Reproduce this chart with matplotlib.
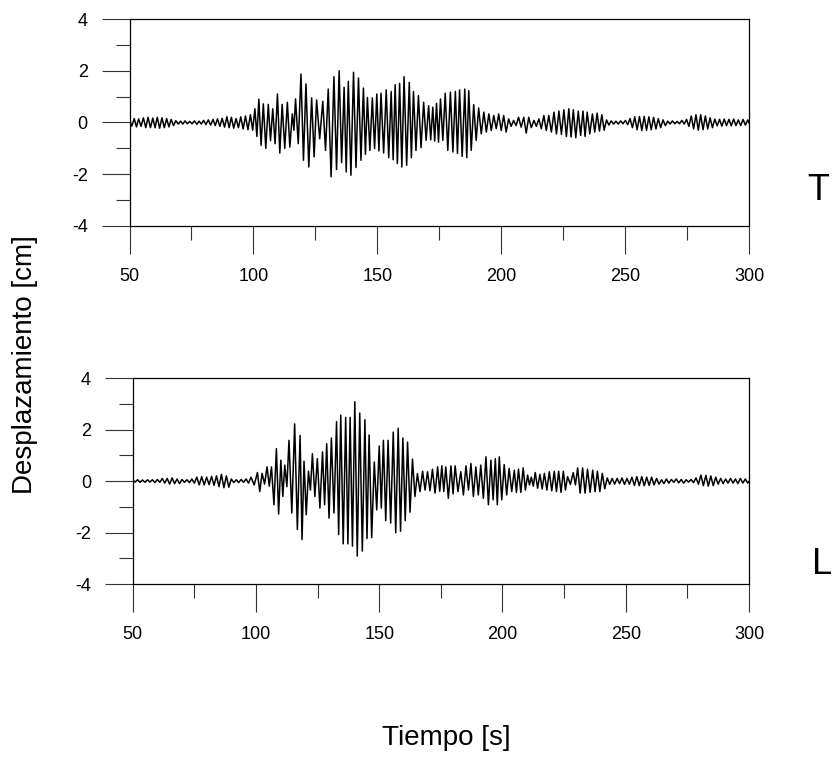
import matplotlib
matplotlib.use('Agg')
import matplotlib.pyplot as plt
from matplotlib.ticker import MultipleLocator

plt.rcParams['font.family'] = ['Liberation Sans', 'DejaVu Sans']
plt.rcParams['axes.unicode_minus'] = False

# peak times [s] and peak values [cm], one row per cycle
top_tp = [50.0, 51.9, 53.7, 55.6, 57.5, 59.4, 61.2, 63.1, 65.0, 66.8,
          68.7, 70.6, 72.4, 74.3, 76.2, 78.1, 79.9, 81.8, 83.7, 85.5,
          87.4, 89.3, 91.1, 93.0, 94.9, 96.8, 98.8, 100.6, 102.2, 104.0,
          106.0, 107.8, 109.7, 111.6, 113.7, 115.7, 117.0, 119.2, 121.2, 123.5,
          125.5, 128.0, 130.2, 132.5, 134.6, 136.6, 138.3, 140.4, 142.4, 144.4,
          146.0, 148.0, 149.8, 151.5, 153.6, 155.6, 157.2, 159.0, 160.8, 162.9,
          164.6, 166.6, 168.7, 170.7, 172.4, 173.9, 175.5, 177.4, 179.5, 181.5,
          183.2, 185.3, 186.9, 188.9, 190.9, 193.0, 195.0, 197.0, 199.0, 201.0,
          203.0, 205.0, 207.0, 209.1, 211.1, 213.2, 215.2, 217.2, 219.2, 221.3,
          223.3, 225.3, 227.3, 229.1, 231.1, 233.0, 234.7, 236.8, 238.7, 240.6,
          242.5, 244.4, 246.3, 248.2, 250.1, 252.0, 253.9, 255.8, 257.7, 259.6,
          261.5, 263.4, 265.3, 267.2, 269.1, 271.0, 272.9, 274.8, 276.7, 278.6,
          280.5, 282.4, 284.3, 286.2, 288.1, 290.0, 291.9, 293.8, 295.7, 297.6,
          299.5]
top_pos = [0.12, 0.15, 0.14, 0.18, 0.20, 0.17, 0.20, 0.18, 0.15, 0.12,
           0.07, 0.05, 0.06, 0.04, 0.06, 0.05, 0.08, 0.10, 0.12, 0.14,
           0.16, 0.22, 0.20, 0.15, 0.22, 0.25, 0.30, 0.53, 0.90, 0.72,
           0.70, 0.53, 1.10, 0.70, 0.78, 0.33, 0.91, 1.87, 1.49, 0.95,
           0.87, 0.82, 1.29, 1.77, 2.00, 1.36, 1.59, 1.94, 1.72, 1.33,
           0.97, 0.95, 1.10, 1.13, 1.26, 1.20, 1.46, 1.51, 1.77, 1.55,
           1.20, 1.04, 0.78, 0.65, 0.59, 0.74, 0.91, 1.13, 1.17, 1.20,
           1.26, 1.29, 1.23, 0.69, 0.56, 0.40, 0.33, 0.27, 0.33, 0.27,
           0.14, 0.08, 0.20, 0.20, 0.20, 0.08, 0.14, 0.27, 0.27, 0.40,
           0.44, 0.49, 0.53, 0.49, 0.44, 0.44, 0.40, 0.33, 0.36, 0.30,
           0.10, 0.06, 0.05, 0.06, 0.08, 0.15, 0.22, 0.23, 0.24, 0.22,
           0.20, 0.15, 0.10, 0.05, 0.06, 0.04, 0.08, 0.12, 0.25, 0.30,
           0.30, 0.25, 0.18, 0.13, 0.12, 0.13, 0.12, 0.13, 0.10, 0.12,
           0.10]
top_neg = [-0.14, -0.17, -0.15, -0.20, -0.20, -0.20, -0.22, -0.20, -0.17, -0.12,
           -0.06, -0.06, -0.05, -0.05, -0.07, -0.06, -0.08, -0.10, -0.12, -0.15,
           -0.18, -0.20, -0.22, -0.20, -0.25, -0.28, -0.30, -0.54, -0.88, -1.00,
           -0.70, -0.82, -1.18, -1.00, -0.95, -0.30, -0.82, -1.46, -1.72, -1.33,
           -0.63, -1.08, -2.10, -1.82, -1.55, -1.91, -2.04, -1.74, -1.46, -1.23,
           -1.08, -1.01, -1.10, -1.18, -1.36, -1.44, -1.59, -1.72, -1.65, -1.36,
           -1.08, -0.97, -0.69, -0.67, -0.72, -0.76, -0.69, -1.08, -1.14, -1.20,
           -1.31, -1.36, -1.08, -0.69, -0.44, -0.37, -0.31, -0.24, -0.31, -0.37,
           -0.15, -0.12, -0.18, -0.41, -0.20, -0.15, -0.24, -0.31, -0.37, -0.44,
           -0.46, -0.54, -0.56, -0.59, -0.50, -0.54, -0.44, -0.37, -0.33, -0.30,
           -0.10, -0.06, -0.06, -0.05, -0.08, -0.20, -0.28, -0.31, -0.30, -0.28,
           -0.25, -0.20, -0.12, -0.06, -0.05, -0.05, -0.06, -0.15, -0.25, -0.30,
           -0.28, -0.25, -0.20, -0.13, -0.14, -0.12, -0.13, -0.12, -0.12, -0.10,
           -0.10]

bot_tp = [50.0, 52.0, 54.0, 56.0, 58.0, 60.0, 62.0, 64.0, 66.0, 68.0,
          70.0, 72.0, 74.0, 76.0, 78.0, 80.0, 82.0, 84.0, 86.0, 88.0,
          90.0, 92.0, 94.0, 96.0, 98.0, 100.6, 102.5, 104.5, 106.3, 108.3,
          110.1, 111.7, 113.4, 115.7, 117.9, 119.5, 121.3, 122.9, 124.9, 127.0,
          128.7, 130.6, 132.7, 134.4, 136.4, 138.2, 140.1, 142.1, 144.2, 145.9,
          148.0, 150.0, 151.7, 153.6, 155.7, 157.7, 159.6, 161.5, 163.5, 165.5,
          167.6, 169.6, 171.6, 173.7, 175.4, 177.0, 179.1, 180.8, 183.1, 185.2,
          187.2, 189.2, 191.2, 193.3, 195.3, 197.1, 198.7, 200.7, 202.7, 204.8,
          206.5, 208.4, 210.2, 211.7, 213.3, 215.2, 217.0, 219.0, 221.0, 222.8,
          224.7, 226.4, 228.7, 230.5, 232.5, 234.5, 236.6, 238.5, 240.5, 242.5,
          244.5, 246.5, 248.5, 250.5, 252.5, 254.5, 256.5, 258.5, 260.5, 262.5,
          264.5, 266.5, 268.5, 270.5, 272.5, 274.5, 276.5, 278.5, 280.5, 282.5,
          284.5, 286.5, 288.5, 290.5, 292.5, 294.5, 296.5, 298.5, 300.5]
bot_pos = [0.04, 0.05, 0.04, 0.05, 0.05, 0.06, 0.10, 0.10, 0.12, 0.08,
           0.06, 0.05, 0.08, 0.15, 0.17, 0.15, 0.18, 0.20, 0.26, 0.20,
           0.08, 0.05, 0.06, 0.08, 0.15, 0.33, 0.30, 0.55, 0.55, 1.26,
           0.81, 0.62, 1.58, 2.22, 1.77, 0.77, 0.38, 1.06, 0.87, 1.13,
           1.45, 1.67, 2.31, 2.56, 2.47, 2.47, 3.08, 2.64, 2.38, 1.79,
           0.74, 1.36, 1.58, 1.58, 1.90, 2.05, 1.67, 1.51, 0.85, 0.29,
           0.38, 0.36, 0.46, 0.55, 0.59, 0.55, 0.59, 0.59, 0.36, 0.59,
           0.68, 0.55, 0.62, 0.94, 0.81, 0.87, 0.94, 0.64, 0.49, 0.42,
           0.46, 0.51, 0.23, 0.15, 0.33, 0.26, 0.30, 0.36, 0.38, 0.38,
           0.38, 0.17, 0.33, 0.51, 0.51, 0.46, 0.42, 0.38, 0.30, 0.12,
           0.10, 0.10, 0.12, 0.10, 0.15, 0.17, 0.17, 0.15, 0.15, 0.10,
           0.05, 0.08, 0.06, 0.08, 0.06, 0.05, 0.06, 0.12, 0.23, 0.22,
           0.20, 0.15, 0.10, 0.08, 0.10, 0.08, 0.10, 0.08, 0.05]
bot_neg = [-0.04, -0.05, -0.05, -0.04, -0.06, -0.05, -0.08, -0.12, -0.10, -0.10,
           -0.05, -0.06, -0.08, -0.15, -0.15, -0.14, -0.17, -0.22, -0.26, -0.24,
           -0.06, -0.06, -0.05, -0.08, -0.15, -0.41, -0.12, -0.20, -0.92, -1.28,
           -0.60, -0.22, -1.24, -1.88, -2.27, -1.31, -0.35, -0.60, -1.05, -0.92,
           -1.44, -1.24, -2.08, -2.44, -2.44, -2.53, -2.91, -2.72, -2.23, -2.20,
           -1.12, -1.05, -1.54, -1.63, -2.01, -1.95, -1.54, -1.21, -0.60, -0.41,
           -0.35, -0.38, -0.47, -0.40, -0.41, -0.67, -0.50, -0.41, -0.54, -0.35,
           -0.60, -0.54, -0.67, -0.92, -0.73, -0.92, -0.73, -0.54, -0.41, -0.44,
           -0.44, -0.35, -0.15, -0.20, -0.28, -0.31, -0.35, -0.38, -0.41, -0.44,
           -0.35, -0.13, -0.15, -0.47, -0.47, -0.44, -0.41, -0.41, -0.30, -0.13,
           -0.12, -0.10, -0.13, -0.12, -0.17, -0.18, -0.18, -0.17, -0.15, -0.12,
           -0.10, -0.08, -0.05, -0.07, -0.08, -0.04, -0.06, -0.12, -0.18, -0.20,
           -0.18, -0.12, -0.10, -0.08, -0.08, -0.10, -0.08, -0.08, -0.05]

x_ticks = [50, 100, 150, 200, 250, 300]
y_ticks = [-4, -2, 0, 2, 4]


def trace(tp, pos, neg):
    # positive peak, then the negative peak halfway to the next cycle
    t, y = [], []
    for i in range(len(tp)):
        nxt = tp[i + 1] if i + 1 < len(tp) else tp[i] + 1.9
        t += [tp[i], (tp[i] + nxt) / 2]
        y += [pos[i], neg[i]]
    return t, y


fig = plt.figure(figsize=(8.35, 7.57), dpi=100)
ax1 = fig.add_axes([0.1551, 0.7015, 0.7419, 0.2734])
ax2 = fig.add_axes([0.1589, 0.2285, 0.7381, 0.2721])

for ax, (tp, pos, neg) in zip([ax1, ax2], [(top_tp, top_pos, top_neg),
                                           (bot_tp, bot_pos, bot_neg)]):
    t, y = trace(tp, pos, neg)
    ax.plot(t, y, color='black', lw=1.1)
    ax.set_xlim(50, 300)
    ax.set_ylim(-4, 4)
    ax.set_xticks(x_ticks)
    ax.set_yticks(y_ticks)
    ax.xaxis.set_minor_locator(MultipleLocator(25))
    ax.yaxis.set_minor_locator(MultipleLocator(1))
    ax.tick_params(which='major', direction='out', length=20, width=0.8,
                   labelsize=13, pad=10, color='#333333')
    ax.tick_params(which='minor', direction='out', length=10, width=0.8,
                   color='#333333')
    for s in ax.spines.values():
        s.set_linewidth(0.9)

# labels
fig.text(0.030, 0.518, 'Desplazamiento [cm]', rotation=90, fontsize=20,
         ha='center', va='center')
fig.text(0.535, 0.025, 'Tiempo [s]', fontsize=20, ha='center', va='center')
fig.text(0.980, 0.749, 'T', fontsize=26, ha='center', va='center')
fig.text(0.984, 0.254, 'L', fontsize=26, ha='center', va='center')

fig.savefig('out.png', dpi=100)
